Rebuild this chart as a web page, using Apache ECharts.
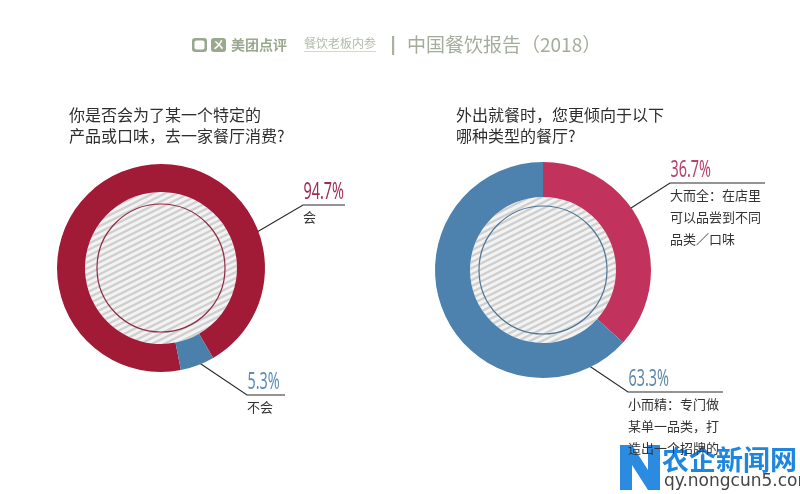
<!DOCTYPE html>
<html><head><meta charset="utf-8">
<script src="https://cdn.jsdelivr.net/npm/echarts@6/dist/echarts.min.js"></script>
<style>html,body{margin:0;padding:0;background:#fff}#c{width:800px;height:494px}</style>
</head><body><div id="c"></div>
<script>
// ---- data ----
const leftQuestion = ['你是否会为了某一个特定的', '产品或口味，去一家餐厅消费?'];
const rightQuestion = ['外出就餐时，您更倾向于以下', '哪种类型的餐厅?'];
const leftCats = ['会', '不会'];
const leftValues = [94.7, 5.3];
const leftDesc = [['会'], ['不会']];
const rightCats = ['大而全', '小而精'];
const rightValues = [36.7, 63.3];
const rightDesc = [['大而全：在店里', '可以品尝到不同', '品类／口味'], ['小而精：专门做', '某单一品类，打', '造出一个招牌的']];
const headerBrand = '美团点评';
const headerSub = '餐饮老板内参';
const headerTitle = '中国餐饮报告（2018）';

// ---- style ----
const CJK = "'Noto Sans CJK SC','Noto Sans',sans-serif";
const NUM = "'Noto Sans','DejaVu Sans',sans-serif";
const GREEN = '#9aa88f';
const leftColors = ['#a11b37', '#4b80aa'];
const rightColors = ['#c1335d', '#4c82ad'];
const leftPctColors = ['#9e2d50', '#5a8db8'];
const rightPctColors = ['#b8406a', '#5f89ab'];
const LC = [161, 268], RC = [543, 270];

// hatch pattern
function hatch() {
  const W = 12, H = 6;
  const cv = document.createElement('canvas');
  cv.width = W; cv.height = H;
  const ctx = cv.getContext('2d');
  ctx.fillStyle = '#f3f3f3'; ctx.fillRect(0, 0, W, H);
  ctx.strokeStyle = '#cfcfcf'; ctx.lineWidth = 2.4;
  for (let k = -1; k <= 1; k++) {
    ctx.beginPath(); ctx.moveTo(-W, 2 * H + k * H); ctx.lineTo(2 * W, k * H - H); ctx.stroke();
  }
  return cv;
}
const pat = { image: hatch(), repeat: 'repeat' };

// annotation leader geometry (relative to pie centre)
const leftLeaders = [
  { start: [79, -26], bend: [142, -63], end: [184, -63] },
  { start: [31, 90], bend: [86, 127], end: [124, 127] }
];
const rightLeaders = [
  { start: [74, -53], bend: [127, -87], end: [222, -87] },
  { start: [30, 85], bend: [85, 122], end: [180, 122] }
];

function layoutFn(c, leaders) {
  return function (p) {
    const L = leaders[p.dataIndex];
    return {
      x: c[0] + L.bend[0], y: c[1] + L.bend[1] + 1,
      align: 'left', verticalAlign: 'top',
      labelLinePoints: [[c[0] + L.start[0], c[1] + L.start[1]], [c[0] + L.bend[0], c[1] + L.bend[1]], [c[0] + L.end[0], c[1] + L.end[1]]]
    };
  };
}
function fmt(descs) {
  return function (p) { return descs[p.dataIndex].join('\n'); };
}

function ringSeries(c, rad, cats, vals, colors, descs, leaders, startAngle) {
  return {
    type: 'pie', center: c, radius: rad, startAngle: startAngle, clockwise: true,
    avoidLabelOverlap: false, silent: true, animation: false,
    data: cats.map((n, i) => ({ name: n, value: vals[i], itemStyle: { color: colors[i] } })),
    label: { show: true, position: 'outside', formatter: fmt(descs), fontFamily: CJK, fontSize: 13, lineHeight: 22, color: '#333' },
    labelLine: { show: true, lineStyle: { color: '#2b2b2b', width: 1.2 } },
    labelLayout: layoutFn(c, leaders)
  };
}
function hatchSeries(c, r) {
  return { type: 'pie', center: c, radius: [0, r], silent: true, animation: false, label: { show: false },
    data: [{ value: 1, itemStyle: { color: pat } }] };
}
function thinCircle(c, r, col) {
  return { type: 'pie', center: c, radius: [0, r], silent: true, animation: false, label: { show: false },
    data: [{ value: 1, itemStyle: { color: 'rgba(0,0,0,0)', borderColor: col, borderWidth: 1.2 } }] };
}
// condensed percentage figures placed above each leader's horizontal segment
function pctTexts(c, vals, leaders, cols) {
  return vals.map((v, i) => ({
    type: 'text', x: c[0] + leaders[i].bend[0] + 0.5, y: c[1] + leaders[i].bend[1] - 1, scaleX: 0.6,
    style: { text: v + '%', font: '24px ' + NUM, fill: cols[i], verticalAlign: 'bottom', align: 'left' }
  }));
}

const chart = echarts.init(document.getElementById('c'), null, { renderer: 'canvas' });
chart.setOption({
  backgroundColor: '#fff',
  title: [
    { text: leftQuestion.join('\n'), left: 64, top: 99, textStyle: { fontFamily: CJK, fontSize: 16, fontWeight: 'normal', color: '#2e2e2e', lineHeight: 21 } },
    { text: rightQuestion.join('\n'), left: 451, top: 99, textStyle: { fontFamily: CJK, fontSize: 16, fontWeight: 'normal', color: '#2e2e2e', lineHeight: 21 } }
  ],
  graphic: [
    { type: 'rect', shape: { x: 192, y: 38, width: 15, height: 14, r: 3 }, style: { fill: GREEN } },
    { type: 'rect', shape: { x: 194.5, y: 40.5, width: 10, height: 9, r: 2 }, style: { fill: '#fff' } },
    { type: 'rect', shape: { x: 211, y: 38, width: 15, height: 14, r: 3 }, style: { fill: GREEN } },
    { type: 'text', x: 218.5, y: 45, style: { text: 'ㄨ', fill: '#fff', font: 'bold 11px ' + CJK, align: 'center', verticalAlign: 'middle' } },
    { type: 'text', x: 231, y: 45, style: { text: headerBrand, fill: GREEN, font: 'bold 14px ' + CJK, verticalAlign: 'middle' } },
    { type: 'text', x: 304, y: 43, style: { text: headerSub, fill: '#b2bba9', font: '12px ' + CJK, verticalAlign: 'middle' } },
    { type: 'rect', shape: { x: 304, y: 51, width: 72, height: 1 }, style: { fill: '#d3d8cd' } },
    { type: 'rect', shape: { x: 392, y: 36, width: 2.2, height: 19 }, style: { fill: '#a9b2a1' } },
    { type: 'text', x: 407, y: 45, style: { text: headerTitle, fill: '#a4ad9c', font: '19px ' + CJK, verticalAlign: 'middle' } },
    // watermark
    { type: 'polygon', shape: { points: [[620, 445], [632, 445], [648, 470], [648, 445], [660, 445], [660, 490], [648, 490], [632, 465], [632, 490], [620, 490]] }, style: { fill: '#2a8be0' } },
    { type: 'text', x: 662, y: 460, style: { text: '农企新闻网', fill: '#1f86e0', font: 'bold 27px ' + CJK, verticalAlign: 'middle' } },
    { type: 'text', x: 664, y: 482, style: { text: 'qy.nongcun5.com', fill: '#444', font: '17px ' + "'DejaVu Sans',sans-serif", verticalAlign: 'middle' } }
  ].concat(pctTexts(LC, leftValues, leftLeaders, leftPctColors), pctTexts(RC, rightValues, rightLeaders, rightPctColors)),
  series: [
    hatchSeries(LC, 76),
    thinCircle(LC, 64, '#8e2a42'),
    ringSeries(LC, [76, 104], leftCats, leftValues, leftColors, leftDesc, leftLeaders, -79),
    hatchSeries(RC, 73),
    thinCircle(RC, 64, '#4d7595'),
    ringSeries(RC, [73, 108], rightCats, rightValues, rightColors, rightDesc, rightLeaders, 90)
  ]
});
</script></body></html>
